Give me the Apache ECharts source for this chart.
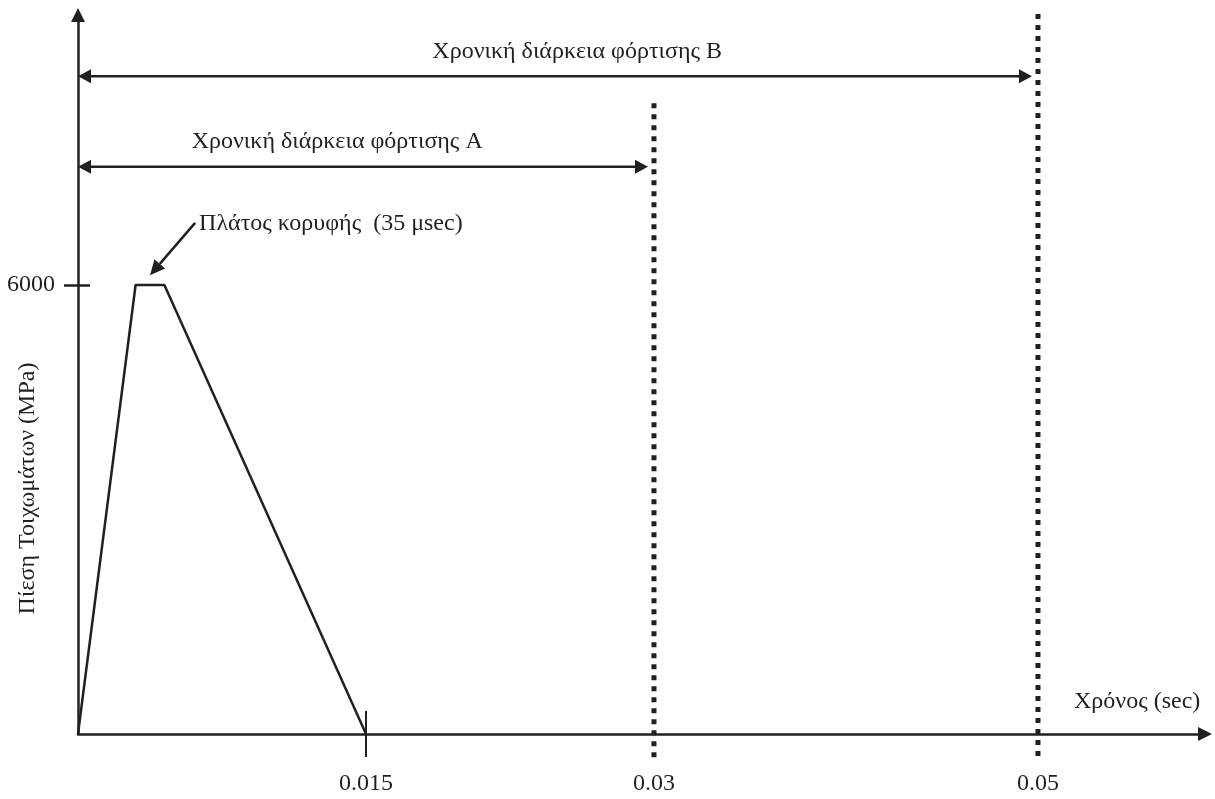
<!DOCTYPE html>
<html>
<head>
<meta charset="utf-8">
<script src="https://cdn.jsdelivr.net/npm/echarts@6/dist/echarts.min.js"></script>
<style>
  html, body { margin: 0; background: #fff; }
  #chart { width: 1215px; height: 799px; }
</style>
</head>
<body>
<div id="chart"></div>
<script>
const ink = '#231f20'
const serif = '"Liberation Serif", "Times New Roman", serif'
const fs = 24

// παλμός πίεσης
const pulseTime = [0, 0.003, 0.0045, 0.015]
const pulsePressure = [0, 6000, 6000, 0]

const xTickLabels = [0.015, 0.03, 0.05]
const yTickLabels = [6000]

// διάρκειες φόρτισης A και B
const durNames = ['Χρονική διάρκεια φόρτισης Α', 'Χρονική διάρκεια φόρτισης Β']
const durEnd = [0.03, 0.05]
const durLevel = [7580, 8790]   // ύψος βελών
const durTop = [8430, 9620]     // πάνω άκρο διακεκομμένων γραμμών
const durTextAt = [0.0135, 0.026]

const peakText = 'Πλάτος κορυφής  (35 μsec)'
const peakFrom = [0.0061, 6830]
const peakTo = [0.00375, 6130]

const xMax = 0.0587
const yMax = 9608

const chart = echarts.init(document.getElementById('chart'))

const head = (tip, dx, dy, len, half) => {
  // τρίγωνο με μύτη στο tip, κατεύθυνση (dx, dy)
  const bx = tip[0] - dx * len, by = tip[1] - dy * len
  return [tip, [bx - dy * half, by + dx * half], [bx + dy * half, by - dx * half]]
}

const arrowStyle = { stroke: ink, lineWidth: 2.5 }

const option = {
  animation: false,
  grid: { left: 78, right: 10, top: 15, bottom: 65, containLabel: false, outerBoundsMode: 'none' },
  xAxis: [
    {
      type: 'value', min: 0, max: xMax, position: 'bottom',
      axisLine: { onZero: false, symbol: ['none', 'triangle'], symbolSize: [14, 14], lineStyle: { color: ink, width: 2.5 } },
      axisTick: { show: true, customValues: [0.015], length: 23, lineStyle: { color: ink, width: 2 } },
      axisLabel: { customValues: xTickLabels, margin: 38, fontFamily: serif, fontSize: fs, color: ink, formatter: v => String(v) },
      splitLine: { show: false },
      name: 'Χρόνος (sec)', nameLocation: 'end', nameGap: -131, nameMoveOverlap: false,
      nameTextStyle: { fontFamily: serif, fontSize: fs, color: ink, align: 'left', verticalAlign: 'bottom', padding: [0, 0, 20, 0] }
    },
    {
      type: 'value', min: 0, max: xMax, position: 'bottom',
      axisLine: { show: false },
      axisTick: { show: true, inside: true, customValues: [0.015], length: 23, lineStyle: { color: ink, width: 2 } },
      axisLabel: { show: false },
      splitLine: { show: false }
    }
  ],
  yAxis: [
    {
      type: 'value', min: 0, max: yMax, position: 'left',
      axisLine: { onZero: false, symbol: ['none', 'triangle'], symbolSize: [14, 14], lineStyle: { color: ink, width: 2.5 } },
      axisTick: { show: true, customValues: yTickLabels, length: 14, lineStyle: { color: ink, width: 2.5 } },
      axisLabel: { customValues: yTickLabels, margin: 23, fontFamily: serif, fontSize: fs, color: ink, formatter: v => String(v) },
      splitLine: { show: false },
      name: 'Πίεση Τοιχωμάτων (MPa)', nameLocation: 'middle', nameGap: 38, nameMoveOverlap: false,
      nameTextStyle: { fontFamily: serif, fontSize: fs, color: ink, padding: [0, 228, 0, 0] }
    },
    {
      type: 'value', min: 0, max: yMax, position: 'left',
      axisLine: { show: false },
      axisTick: { show: true, inside: true, customValues: yTickLabels, length: 12, lineStyle: { color: ink, width: 2.5 } },
      axisLabel: { show: false },
      splitLine: { show: false }
    }
  ],
  series: [
    {
      type: 'line',
      data: pulseTime.map((t, i) => [t, pulsePressure[i]]),
      symbol: 'none',
      lineStyle: { color: ink, width: 2.5 },
      z: 3
    },
    {
      // διακεκομμένες κατακόρυφες γραμμές
      type: 'custom',
      data: durEnd.map((t, i) => [t, durTop[i]]),
      renderItem: (params, api) => {
        const p0 = api.coord([api.value(0), api.value(1)])
        const p1 = api.coord([api.value(0), 0])
        return {
          type: 'line',
          shape: { x1: p0[0], y1: p0[1], x2: p1[0], y2: p1[1] + 28 },
          style: { stroke: ink, lineWidth: 5, lineDash: [5, 6] }
        }
      },
      z: 4
    },
    {
      // διπλά βέλη με τίτλους
      type: 'custom',
      data: durEnd.map((t, i) => [t, durLevel[i], durTextAt[i], i]),
      renderItem: (params, api) => {
        const a = api.coord([0, api.value(1)])
        const b = api.coord([api.value(0), api.value(1)])
        const c = api.coord([api.value(2), api.value(1)])
        b[0] -= 6
        const len = 13, half = 7
        return {
          type: 'group',
          children: [
            { type: 'line', shape: { x1: a[0] + len, y1: a[1], x2: b[0] - len, y2: b[1] }, style: arrowStyle },
            { type: 'polygon', shape: { points: head(a, -1, 0, len, half) }, style: { fill: ink } },
            { type: 'polygon', shape: { points: head(b, 1, 0, len, half) }, style: { fill: ink } },
            {
              type: 'text',
              style: {
                x: c[0], y: c[1] - 25,
                text: durNames[api.value(3)],
                font: fs + 'px ' + serif, fill: ink,
                align: 'center', verticalAlign: 'middle', textAlign: 'center', textVerticalAlign: 'middle'
              }
            }
          ]
        }
      },
      z: 5
    },
    {
      // βέλος πλάτους κορυφής
      type: 'custom',
      data: [[peakFrom[0], peakFrom[1], peakTo[0], peakTo[1]]],
      renderItem: (params, api) => {
        const f = api.coord([api.value(0), api.value(1)])
        const t = api.coord([api.value(2), api.value(3)])
        const dx = t[0] - f[0], dy = t[1] - f[1]
        const d = Math.sqrt(dx * dx + dy * dy)
        const ux = dx / d, uy = dy / d
        const len = 15, half = 7
        return {
          type: 'group',
          children: [
            { type: 'line', shape: { x1: f[0], y1: f[1], x2: t[0] - ux * len, y2: t[1] - uy * len }, style: arrowStyle },
            { type: 'polygon', shape: { points: head(t, ux, uy, len, half) }, style: { fill: ink } },
            {
              type: 'text',
              style: {
                x: f[0] + 4, y: f[1] + 1,
                text: peakText,
                font: fs + 'px ' + serif, fill: ink,
                align: 'left', verticalAlign: 'middle', textAlign: 'left', textVerticalAlign: 'middle'
              }
            }
          ]
        }
      },
      z: 5
    }
  ]
}

chart.setOption(option)
</script>
</body>
</html>
